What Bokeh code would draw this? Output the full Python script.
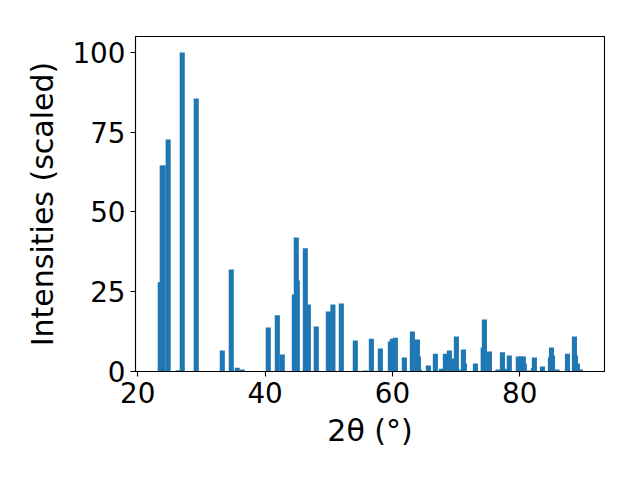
from bokeh.plotting import figure
from bokeh.models import Range1d, FixedTicker, ColumnDataSource
from bokeh.embed import file_html
from bokeh.resources import INLINE

# 2-theta peak positions (degrees) and scaled intensities
two_theta = [23.54, 23.85, 24.00, 24.78, 26.36, 26.99, 29.19, 33.28, 34.69, 35.63,
             36.42, 40.50, 41.92, 42.70, 44.59, 44.90, 45.06, 46.32, 46.79, 48.04,
             49.93, 50.65, 51.97, 54.17, 55.74, 56.69, 58.10, 59.67, 59.98, 60.46,
             61.87, 63.13, 63.92, 64.08, 64.23, 65.64, 66.74, 67.68, 68.31, 68.94,
             69.26, 70.04, 70.30, 71.14, 71.30, 73.03, 74.25, 74.44, 75.23, 76.56,
             77.27, 77.58, 78.35, 79.76, 80.16, 80.55, 80.71, 81.45, 82.14, 82.29,
             83.55, 84.81, 84.97, 85.13, 85.85, 87.48, 88.58, 88.74, 89.05, 89.52]
intensity = [28.0, 64.6, 64.6, 72.7, 0.4, 100.0, 85.6, 6.6, 32.0, 1.2,
             0.6, 13.8, 17.6, 5.3, 24.1, 42.0, 28.5, 38.6, 21.0, 14.1,
             18.8, 21.0, 21.3, 9.7, 0.3, 10.3, 7.2, 9.4, 10.3, 10.6,
             4.4, 12.5, 10.0, 4.7, 0.6, 1.9, 5.6, 0.9, 5.6, 6.6,
             4.1, 11.0, 0.6, 6.9, 2.5, 2.5, 7.5, 16.3, 6.3, 0.6,
             6.0, 0.9, 5.0, 4.7, 4.7, 4.7, 2.5, 0.3, 1.2, 4.4,
             1.6, 4.4, 7.5, 5.0, 0.6, 5.6, 11.0, 5.0, 2.5, 0.6]
x_ticks = [20, 40, 60, 80]
y_ticks = [0, 25, 50, 75, 100]

FONT = "DejaVu Sans"
FS = "27.8px"
LFS = "30px"

p = figure(width=624, height=464, output_backend="svg", toolbar_location=None,
           x_range=Range1d(19.65, 93.3), y_range=Range1d(0, 105),
           min_border_left=135, min_border_right=20, min_border_top=36,
           min_border_bottom=93)

src = ColumnDataSource(dict(x=two_theta, top=intensity))
p.vbar(x="x", top="top", bottom=0, width=0.8, source=src,
       fill_color="#1f77b4", line_color=None)

p.xgrid.visible = False
p.ygrid.visible = False
p.outline_line_color = "black"
p.outline_line_width = 1.1
p.background_fill_color = "white"
p.border_fill_color = "white"

p.xaxis.ticker = FixedTicker(ticks=x_ticks)
p.yaxis.ticker = FixedTicker(ticks=y_ticks)
p.xaxis.axis_label = "2θ (°)"
p.yaxis.axis_label = "Intensities (scaled)"

for ax in (p.xaxis[0], p.yaxis[0]):
    ax.axis_line_color = "black"
    ax.axis_line_width = 1.1
    ax.major_tick_line_color = "black"
    ax.major_tick_line_width = 1.1
    ax.major_tick_in = 0
    ax.major_tick_out = 5
    ax.minor_tick_line_color = None
    ax.major_label_standoff = 5
    ax.major_label_text_font = FONT
    ax.major_label_text_font_size = FS
    ax.major_label_text_color = "black"
    ax.axis_label_text_font = FONT
    ax.axis_label_text_font_size = LFS
    ax.axis_label_text_font_style = "normal"
    ax.axis_label_text_color = "black"

p.xaxis.axis_label_standoff = 7
p.yaxis.axis_label_standoff = 9

open("out.html", "w").write(file_html(p, INLINE))
